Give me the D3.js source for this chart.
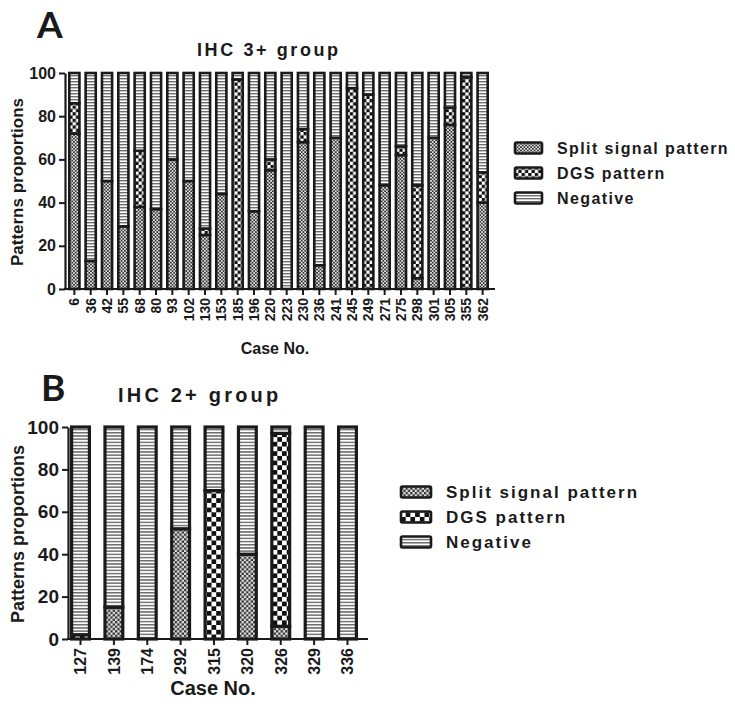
<!DOCTYPE html>
<html>
<head>
<meta charset="utf-8">
<script src="https://cdn.jsdelivr.net/npm/d3@7"></script>
<style>
  body { margin: 0; background: #fff; }
  text { font-family: "Liberation Sans", Arial, sans-serif; font-weight: bold; fill: #1a1a1a; }
</style>
</head>
<body>
<svg id="chart" width="735" height="706"></svg>
<script>
// panel A: IHC 3+ group
let casesA = ["6","36","42","55","68","80","93","102","130","153","185","196","220","223","230","236","241","245","249","271","275","298","301","305","355","362"];
let splitA = [72,13,50,29,38,37,60,50,25,44,0,36,55,0,68,11,70,0,0,48,62,5,70,76,0,40];
let dgsA   = [14,0,0,0,26,0,0,0,3,0,97,0,5,0,6,0,0,93,90,0,4,43,0,8,98,14];
let negA   = [14,87,50,71,36,63,40,50,72,56,3,64,40,100,26,89,30,7,10,52,34,52,30,16,2,46];

// panel B: IHC 2+ group
let casesB = ["127","139","174","292","315","320","326","329","336"];
let splitB = [0,15,0,52,0,40,6,0,0];
let dgsB   = [2,0,0,0,70,0,91,0,0];
let negB   = [98,85,100,48,30,60,3,100,100];

let yTicks = [0,20,40,60,80,100];
let seriesNames = ["Split signal pattern","DGS pattern","Negative"];
let keys = ["split","dgs","neg"];

let svg = d3.select("#chart");
let defs = svg.append("defs");

// fills: fine checker, coarse checker, horizontal lines
function checker(id, cell, dark, light){
    let p = defs.append("pattern").attr("id", id)
        .attr("patternUnits", "userSpaceOnUse")
        .attr("width", cell*2).attr("height", cell*2);
    p.append("rect").attr("width", cell*2).attr("height", cell*2).attr("fill", light);
    p.append("rect").attr("width", cell).attr("height", cell).attr("fill", dark);
    p.append("rect").attr("x", cell).attr("y", cell).attr("width", cell).attr("height", cell).attr("fill", dark);
}
function lines(id, period, w){
    let p = defs.append("pattern").attr("id", id)
        .attr("patternUnits", "userSpaceOnUse")
        .attr("width", 4).attr("height", period);
    p.append("rect").attr("width", 4).attr("height", period).attr("fill", "#fff");
    p.append("rect").attr("y", 0).attr("width", 4).attr("height", w).attr("fill", "#6e6e6e");
}
checker("splitA", 1.7, "#333", "#e4e4e4");
checker("dgsA", 3.3, "#111", "#fff");
lines("negA", 3, 1.4);
checker("splitB", 2.3, "#333", "#e4e4e4");
checker("dgsB", 4.7, "#111", "#fff");
lines("negB", 3.2, 1.5);

function panel(o){
    let g = svg.append("g");
    let rows = o.cases.map((c, i) => ({case: c, split: o.split[i], dgs: o.dgs[i], neg: o.neg[i]}));
    let stacked = d3.stack().keys(keys)(rows);

    let x = d3.scaleBand().domain(o.cases).range(o.xr).paddingInner(o.pad).paddingOuter(0);
    let y = d3.scaleLinear().domain([0,100]).range(o.yr);
    let sw = o.sw;

    stacked.forEach(s => {
        g.append("g").selectAll("rect")
            .data(s.filter(d => d[1] - d[0] > 0))
            .join("rect")
            .attr("x", d => x(d.data.case) + sw/2)
            .attr("width", x.bandwidth() - sw)
            .attr("y", d => y(d[1]))
            .attr("height", d => y(d[0]) - y(d[1]))
            .attr("fill", `url(#${s.key}${o.tag})`)
            .attr("stroke", "#1a1a1a")
            .attr("stroke-width", sw);
    });

    // y axis
    let ya = g.append("g").attr("transform", `translate(${o.axisX},0)`)
        .call(d3.axisLeft(y).tickValues(yTicks).tickSize(6).tickSizeOuter(0).tickPadding(3));
    ya.select(".domain").attr("stroke", "#1a1a1a").attr("stroke-width", 2.2);
    ya.selectAll(".tick line").attr("stroke", "#1a1a1a").attr("stroke-width", 2);
    ya.selectAll("text").style("font-size", o.yfs + "px").attr("fill", "#1a1a1a");

    // x axis
    let xa = g.append("g").attr("transform", `translate(0,${o.yr[0]})`)
        .call(d3.axisBottom(x).tickSize(6).tickSizeOuter(0));
    xa.select(".domain").remove();
    xa.selectAll(".tick line").attr("stroke", "#1a1a1a").attr("stroke-width", 2);
    xa.selectAll("text")
        .style("font-size", o.xfs + "px").attr("fill", "#1a1a1a")
        .attr("transform", "rotate(-90)")
        .attr("text-anchor", "end")
        .attr("x", -9).attr("y", 0).attr("dy", "0.36em");
    g.append("line")
        .attr("x1", o.axisX - 1).attr("x2", o.xEnd)
        .attr("y1", o.yr[0]).attr("y2", o.yr[0])
        .attr("stroke", "#1a1a1a").attr("stroke-width", 2.2);

    // labels
    g.append("text").attr("x", o.title[0]).attr("y", o.title[1])
        .style("font-size", o.tfs + "px").style("letter-spacing", o.tls + "px")
        .text(o.titleText);
    g.append("text").attr("transform", `translate(${o.ylab[0]},${o.ylab[1]}) rotate(-90)`)
        .attr("text-anchor", "middle").style("font-size", o.lfs + "px")
        .text("Patterns proportions");
    g.append("text").attr("x", o.xlab[0]).attr("y", o.xlab[1])
        .attr("text-anchor", "middle").style("font-size", o.cfs + "px")
        .text("Case No.");
    g.append("text").attr("x", o.letter[0]).attr("y", o.letter[1])
        .style("font-family", "Lato, sans-serif").style("font-weight", "bold")
        .style("font-size", "37px").attr("fill", "#000")
        .text(o.tag);

    // legend
    let lg = g.append("g").attr("transform", `translate(${o.leg[0]},${o.leg[1]})`);
    seriesNames.forEach((n, i) => {
        let r = lg.append("g").attr("transform", `translate(0,${i*o.leg[2]})`);
        r.append("rect").attr("x", 0).attr("y", -5.5).attr("width", o.leg[3]).attr("height", 11)
            .attr("rx", 1.5)
            .attr("fill", `url(#${keys[i]}${o.tag})`).attr("stroke", "#1a1a1a").attr("stroke-width", 2.6);
        r.append("text").attr("x", o.leg[4]).attr("y", 0).attr("dy", "0.36em")
            .style("font-size", o.gfs + "px").style("letter-spacing", o.gls + "px").text(n);
    });
}

panel({
    tag: "A", cases: casesA, split: splitA, dgs: dgsA, neg: negA,
    xr: [68, 489], pad: 0.22, yr: [289, 73], sw: 2.6,
    axisX: 65, xEnd: 495, yfs: 16, xfs: 14,
    title: [197, 56], titleText: "IHC 3+ group", tfs: 18, tls: 2.6,
    ylab: [23, 182], lfs: 17, xlab: [275, 354], cfs: 16,
    letter: [37, 37.5],
    leg: [515, 148, 25, 27, 42], gfs: 16, gls: 1.4
});

panel({
    tag: "B", cases: casesB, split: splitB, dgs: dgsB, neg: negB,
    xr: [70, 358], pad: 0.37, yr: [639, 427], sw: 3.2,
    axisX: 68, xEnd: 368, yfs: 19, xfs: 16,
    title: [118, 402], titleText: "IHC 2+ group", tfs: 20, tls: 3.2,
    ylab: [24, 534], lfs: 18, xlab: [213, 695], cfs: 20,
    letter: [41, 401],
    leg: [401, 492, 25, 30, 45], gfs: 17, gls: 2
});
</script>
</body>
</html>
